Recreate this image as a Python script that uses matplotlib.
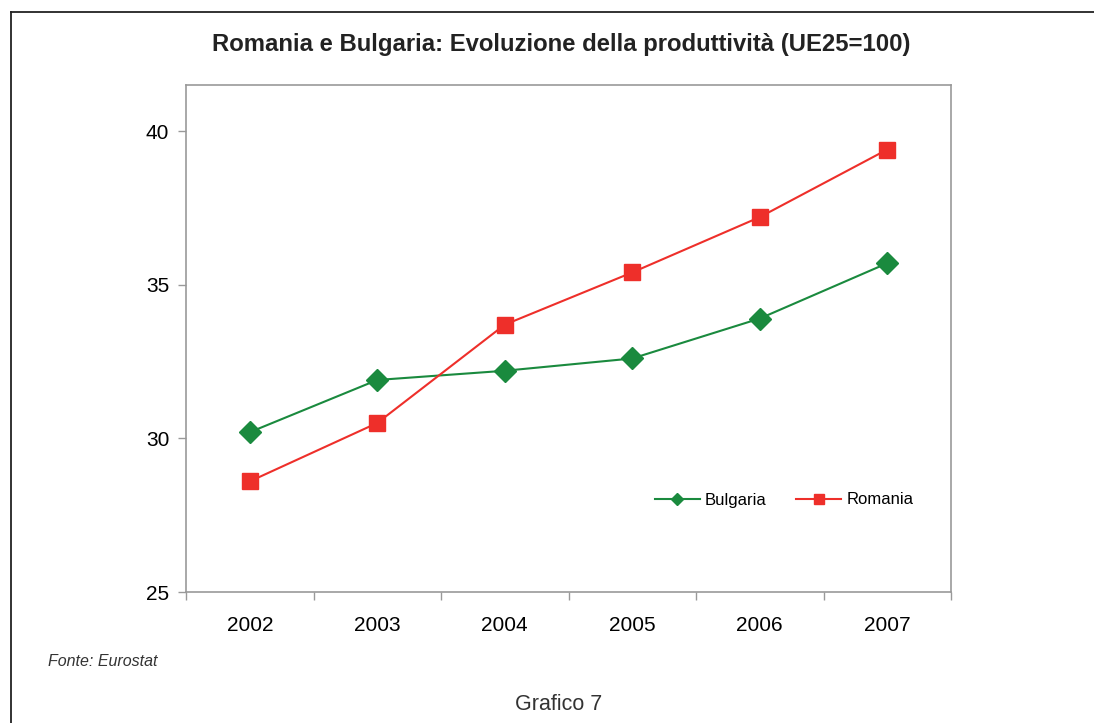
import matplotlib
matplotlib.use("Agg")
import matplotlib.pyplot as plt
from matplotlib.lines import Line2D

years = ["2002", "2003", "2004", "2005", "2006", "2007"]
bulgaria = [30.2, 31.9, 32.2, 32.6, 33.9, 35.7]
romania = [28.6, 30.5, 33.7, 35.4, 37.2, 39.4]
yticks = [25, 30, 35, 40]

plt.rcParams['font.family'] = ['Liberation Sans', 'DejaVu Sans']

W, H = 1094, 723
fig = plt.figure(figsize=(W / 100, H / 100), dpi=100)
fig.patch.set_facecolor('white')

# outer frame (left and top lines)
fig.add_artist(Line2D([11 / W, 11 / W], [0, 1 - 12 / H], color='#222222', lw=1.3,
                      transform=fig.transFigure))
fig.add_artist(Line2D([11 / W, 1], [1 - 12 / H, 1 - 12 / H], color='#222222', lw=1.3,
                      transform=fig.transFigure))

left, right, top, bottom = 186, 951, 85, 592
ax = fig.add_axes([left / W, 1 - bottom / H, (right - left) / W, (bottom - top) / H])

x = list(range(len(years)))
green = '#1a8a3e'
red = '#ee2f2a'
ax.plot(x, bulgaria, color=green, lw=1.5, marker='D', markersize=11,
        markeredgecolor=green, label='Bulgaria', zorder=3)
ax.plot(x, romania, color=red, lw=1.5, marker='s', markersize=11,
        markeredgecolor=red, label='Romania', zorder=3)

ax.set_xlim(-0.5, 5.5)
ax.set_ylim(25, 41.5)
ax.set_yticks(yticks)
ax.set_yticklabels([str(v) for v in yticks], fontsize=15)
ax.set_xticks(x)
ax.set_xticklabels(years, fontsize=15)
ax.set_xticks([i - 0.5 for i in range(len(years) + 1)], minor=True)
ax.tick_params(axis='x', which='major', length=0, pad=17)
ax.tick_params(axis='x', which='minor', length=6, color='#999999', width=1)
ax.tick_params(axis='y', length=6, color='#999999', width=1, pad=6)
for s in ax.spines.values():
    s.set_color('#999999')
    s.set_linewidth(1.2)

leg = ax.legend(loc='center', bbox_to_anchor=((784 - left) / (right - left), (bottom - 500) / (bottom - top)),
                ncol=2, frameon=False, fontsize=12, handlelength=2.7, columnspacing=1.8,
                handletextpad=0.3, markerscale=0.6)

fig.text(561 / W, 1 - 45 / H, 'Romania e Bulgaria: Evoluzione della produttività (UE25=100)',
         ha='center', va='center', fontsize=17.2, fontweight='bold', color='#222222')
fig.text(48 / W, 1 - 661 / H, 'Fonte: Eurostat', ha='left', va='center',
         fontsize=11.5, style='italic', color='#333333')
fig.text(559 / W, 1 - 704 / H, 'Grafico 7', ha='center', va='center',
         fontsize=15.5, color='#333333')

fig.savefig('out.png', dpi=100)
